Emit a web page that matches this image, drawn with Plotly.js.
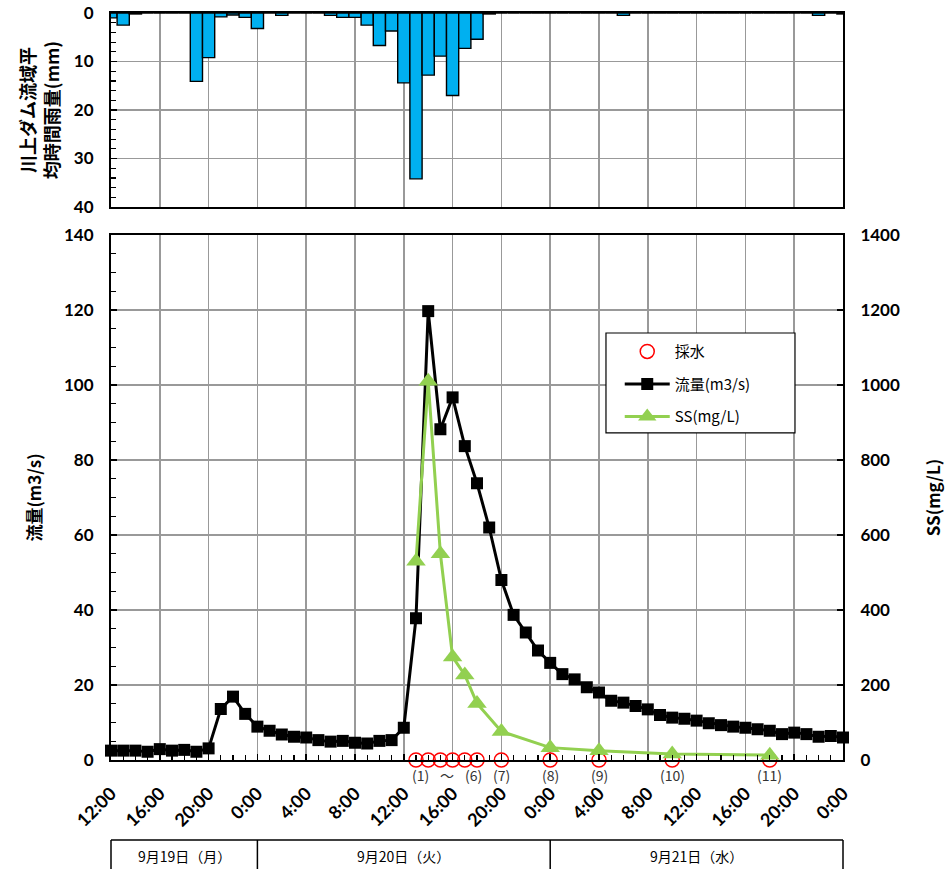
<!DOCTYPE html>
<html><head><meta charset="utf-8">
<script src="https://cdn.plot.ly/plotly-3.0.1.min.js"></script>
<style>body{margin:0;background:#fff}#chart{width:945px;height:869px}</style>
</head><body><div id="chart"></div>
<script>
// hours counted from 9/19 12:00
const hours = [0,1,2,3,4,5,6,7,8,9,10,11,12,13,14,15,16,17,18,19,20,21,22,23,24,25,26,27,28,29,30,31,32,33,34,35,36,37,38,39,40,41,42,43,44,45,46,47,48,49,50,51,52,53,54,55,56,57,58,59,60];
const flow = [2.5,2.5,2.5,2.2,2.9,2.5,2.7,2.2,3.1,13.6,16.9,12.3,8.9,7.8,6.8,6.2,6.0,5.3,4.9,5.1,4.6,4.4,5.1,5.3,8.6,37.8,119.7,88.2,96.7,83.7,73.8,62.0,48.0,38.7,34.0,29.2,25.9,22.9,21.5,19.4,18.0,15.8,15.3,14.4,13.5,12.0,11.3,11.0,10.5,9.8,9.3,8.9,8.6,8.2,7.8,6.9,7.3,6.9,6.2,6.4,6.0];
const rain = [1.0,2.5,0.2,0,0,0,0,14.1,9.2,0.8,0.4,0.9,3.2,0,0.5,0,0,0,0.5,0.9,0.9,2.5,6.7,3.7,14.4,34.2,12.8,8.9,17.0,7.3,5.4,0.2,0,0,0,0,0,0,0,0,0,0,0.5,0,0,0,0,0,0,0,0,0,0,0,0,0,0,0,0.5,0,0.2];
const sampleHours = [25,26,27,28,29,30,32,36,40,46,54];
const sampleLevel = [0,0,0,0,0,0,0,0,0,0,0];
const ss = [530,1010,550,275,227,151,76,33,25,16,13];
const sampleLabelHours = [25.4,27.5,29.7,32,36,40,46,54];
const sampleLabels = ["(1)","〜","(6)","(7)","(8)","(9)","(10)","(11)"];
const tickHours = [0,4,8,12,16,20,24,28,32,36,40,44,48,52,56,60];
const tickText = ["12:00","16:00","20:00","0:00","4:00","8:00","12:00","16:00","20:00","0:00","4:00","8:00","12:00","16:00","20:00","0:00"];
const dayLabels = ["9月19日（月）","9月20日（火）","9月21日（水）"];
const dayBounds = [0,12,36,60];

const XR = [0,60];
const px = h => (h - XR[0]) / (XR[1] - XR[0]);
const JP = '"Noto Sans CJK JP", "Noto Sans", sans-serif';
const NUM = 'Lato, "Noto Sans CJK JP", sans-serif';
const tickFont = {family: NUM, size: 17, color: '#000', weight: 'bold'};
const xTickFont = {family: NUM, size: 18, color: '#000', weight: 'bold'};
const GRID = '#999999';

const traces = [
  {type:'bar', x:hours, y:rain, xaxis:'x2', yaxis:'y2', width:1, showlegend:false,
   marker:{color:'#00B0F0', line:{color:'#000', width:1.4}}, hoverinfo:'skip'},
  {type:'scatter', mode:'markers', x:sampleHours, y:sampleLevel, name:'採水', cliponaxis:false, legendgroup:'a',
   marker:{symbol:'circle-open', size:14, color:'#FF0000', line:{width:1.5}}},
  {type:'scatter', mode:'lines+markers', x:hours, y:flow, name:'流量(m3/s)', cliponaxis:false, legendgroup:'b',
   line:{color:'#000', width:3}, marker:{symbol:'square', size:12, color:'#000'}},
  {type:'scatter', mode:'lines+markers', x:sampleHours, y:ss, yaxis:'y3', name:'SS(mg/L)', cliponaxis:false, legendgroup:'c',
   line:{color:'#92D050', width:3}, marker:{symbol:'triangle-up', size:17, color:'#92D050'}}
];

const shapes = [
  {type:'line', xref:'paper', yref:'paper', x0:px(dayBounds[0]), x1:px(dayBounds[dayBounds.length-1]), y0:-0.1071, y1:-0.1071, line:{color:'#000', width:1.5}},
  {type:'rect', xref:'paper', yref:'paper', x0:0.6762, x1:0.9344, y0:0.4378, y1:0.5716, line:{color:'#000', width:1.2}, fillcolor:'#fff', layer:'above'}
].concat(dayBounds.map(h => ({type:'line', xref:'paper', yref:'paper', x0:px(h), x1:px(h), y0:-0.1071, y1:-0.2, line:{color:'#000', width:1.5}})));

const annotations = sampleLabels.map((t,i) => ({
  text:t, x:sampleLabelHours[i], y:0, xref:'x', yref:'y', showarrow:false, yshift:-15, xanchor:'center',
  font:{family:JP, size:14, color:'#333333'}
})).concat(dayLabels.map((t,i) => ({
  text:t, x:px((dayBounds[i]+dayBounds[i+1])/2), y:-0.1285, xref:'paper', yref:'paper', showarrow:false,
  xanchor:'center', yanchor:'middle', font:{family:JP, size:14, color:'#000'}
})));

const layout = {
  width:945, height:869, margin:{l:111, r:102, t:13, b:109},
  paper_bgcolor:'#fff', plot_bgcolor:'#fff', bargap:0,
  font:{family:JP, color:'#000'},
  xaxis:{domain:[0,1], anchor:'y', range:XR, tickmode:'array', tickvals:tickHours, ticktext:tickText,
    tickangle:-45, ticks:'inside', ticklen:6, tickwidth:1.5, tickcolor:'#000', tickfont:xTickFont, ticklabelstandoff:14,
    showgrid:true, gridcolor:GRID, gridwidth:1.5, showline:true, linecolor:'#000', linewidth:2, mirror:true, zeroline:false,
    minor:{tickmode:'array', tickvals:hours, ticks:'inside', ticklen:5, tickwidth:1.2, tickcolor:'#000', showgrid:false}},
  yaxis:{domain:[0,0.7028], anchor:'x', range:[0,140], dtick:20, ticks:'inside', ticklen:6, tickwidth:1.5, tickcolor:'#000',
    tickfont:tickFont, ticklabelstandoff:12, showgrid:true, gridcolor:GRID, gridwidth:1.5, showline:true, linecolor:'#000', linewidth:2,
    mirror:true, zeroline:false,
    minor:{dtick:5, ticks:'inside', ticklen:5, tickwidth:1.2, tickcolor:'#000', showgrid:false},
    title:{text:'流量(m3/s)', font:{family:JP, size:17, weight:'bold'}, standoff:18}},
  yaxis3:{overlaying:'y', side:'right', anchor:'x', range:[0,1400], dtick:200, ticks:'inside', ticklen:6, tickwidth:1.5, tickcolor:'#000',
    tickfont:tickFont, ticklabelstandoff:12, showgrid:false, showline:true, linecolor:'#000', linewidth:2, zeroline:false,
    title:{text:'SS(mg/L)', font:{family:JP, size:17, weight:'bold'}, standoff:30}},
  xaxis2:{domain:[0,1], anchor:'y2', range:XR, tickmode:'array', tickvals:tickHours, showticklabels:false, ticks:'',
    showgrid:true, gridcolor:GRID, gridwidth:1.5, showline:true, linecolor:'#000', linewidth:2, mirror:true, zeroline:false},
  yaxis2:{domain:[0.7403,1], anchor:'x2', range:[40,0], dtick:10, ticks:'inside', ticklen:6, tickwidth:1.5, tickcolor:'#000',
    tickfont:tickFont, ticklabelstandoff:12, showgrid:true, gridcolor:GRID, gridwidth:1.5, showline:true, linecolor:'#000', linewidth:2,
    mirror:true, zeroline:false,
    minor:{dtick:2, ticks:'inside', ticklen:5, tickwidth:1.2, tickcolor:'#000', showgrid:false},
    title:{text:'川上ダム流域平<br>均時間雨量(mm)', font:{family:JP, size:18, weight:'bold'}, standoff:10}},
  legend:{x:0.695, y:0.5687, xanchor:'left', yanchor:'top', bgcolor:'rgba(0,0,0,0)', borderwidth:0,
    font:{family:JP, size:15, color:'#000'}, tracegroupgap:10, itemwidth:45},
  shapes:shapes, annotations:annotations, showlegend:true
};

Plotly.newPlot('chart', traces, layout, {displayModeBar:false, staticPlot:true});
</script></body></html>
